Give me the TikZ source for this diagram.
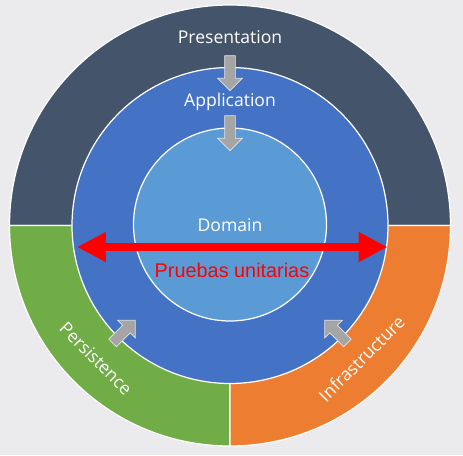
\documentclass[tikz,border=0pt]{standalone}
\usepackage{fontspec}
\setmainfont{Open Sans}
\newfontfamily\testfont{Liberation Sans}
\usepackage{xcolor}
\usetikzlibrary{arrows.meta, shapes.arrows}
\definecolor{bggrey}{HTML}{EBEBED}
\definecolor{presdark}{HTML}{44546A}
\definecolor{appblue}{HTML}{4472C4}
\definecolor{domblue}{HTML}{5B9BD5}
\definecolor{persgreen}{HTML}{70AD47}
\definecolor{infraorange}{HTML}{ED7D31}
\definecolor{arrowgrey}{HTML}{A5A5A5}
\tikzset{
  layer/.style={draw=white, line width=0.7pt},
  ringtext/.style={text=white, font=\fontsize{10}{12}\selectfont, inner sep=0pt},
  blockarrow/.style={single arrow, fill=arrowgrey, draw=white!70!arrowgrey, line width=0.4pt,
    single arrow head extend=0.14cm, inner sep=0.1cm}
}

\begin{document}
\begin{tikzpicture}[scale= 0.02]
\fill [bggrey](-230, -229.5) rectangle (233, 225.5);
\filldraw [layer, fill=presdark](0:220.5) arc (0:180:220.5) -- cycle;
\filldraw [layer, fill=persgreen](0, 0) -- (180:220.5) arc (180:270:220.5) -- cycle;
\filldraw [layer, fill=infraorange](0, 0) -- (270:220.5) arc (270:360:220.5) -- cycle;
\filldraw [layer, fill=appblue](0, 0) circle [radius=158];
\filldraw [layer, fill=domblue](0, 1) circle [radius=96.5];
\node [ringtext, anchor=base] (pres) at (0, 182.5) {Presentation};
\node [ringtext, anchor=base] (app) at (0, 119.5) {Application};
\node [ringtext, anchor=base] (dom) at (0, -5.5) {Domain};
\node [ringtext, rotate=-45] (pers) at (-134, -133) {Persistence};
\node [ringtext, rotate=45] (infra) at (131.5, -133) {Infrastructure};
\node [blockarrow, minimum height=0.7cm, rotate=-90] (pres2app) at (0, 155) {};
\node [blockarrow, minimum height=0.7cm, rotate=-90] (app2dom) at (0, 95) {};
\node [blockarrow, minimum height=0.64cm, rotate=45] (pers2app) at (-108, -108) {};
\node [blockarrow, minimum height=0.64cm, rotate=135] (infra2app) at (108, -108) {};
\coordinate (testl) at (-153, -21.5);
\coordinate (testr) at (157.5, -21.5);
\draw [red, line width=4pt, {Triangle[length=16.5pt, width=16pt]}-{Triangle[length=16.5pt, width=16pt]}](testl) -- (testr);
\node [text=red, font=\testfont\fontsize{11.3}{13}\selectfont, inner sep=0pt, anchor=base] (tests) at (2, -51.5) {Pruebas unitarias};
\end{tikzpicture}
\end{document}
